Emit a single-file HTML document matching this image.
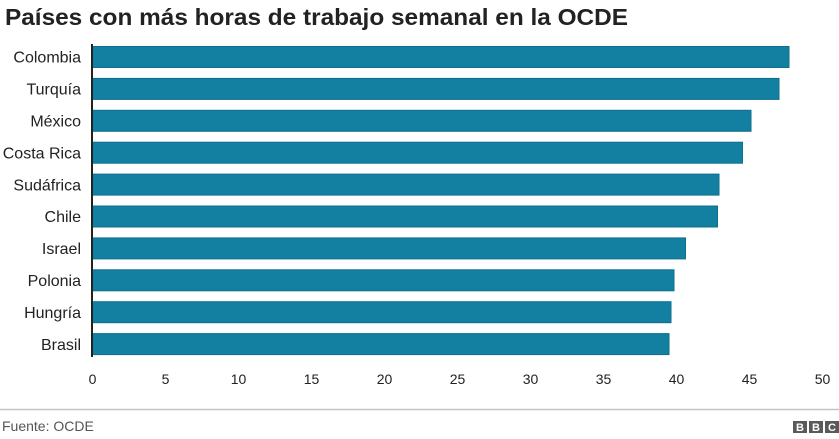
<!DOCTYPE html>
<html><head><meta charset="utf-8"><style>
html,body{margin:0;padding:0;background:#fff;}
svg{display:block;}
</style></head><body>
<svg width="839" height="439" viewBox="0 0 839 439" xmlns="http://www.w3.org/2000/svg" font-family="Liberation Sans, Arial, sans-serif">
<text x="5" y="25" font-size="23" font-weight="bold" fill="#222" textLength="623" lengthAdjust="spacingAndGlyphs">Países con más horas de trabajo semanal en la OCDE</text>
<g fill="#1380a1" stroke="#0f6f8e" stroke-width="1">
<rect x="92.5" y="46.5" width="696.5" height="21"/>
<rect x="92.5" y="78.4" width="686.5" height="21"/>
<rect x="92.5" y="110.3" width="658.5" height="21"/>
<rect x="92.5" y="142.2" width="650" height="21"/>
<rect x="92.5" y="174.1" width="626.5" height="21"/>
<rect x="92.5" y="206" width="625" height="21"/>
<rect x="92.5" y="237.9" width="593" height="21"/>
<rect x="92.5" y="269.8" width="581.5" height="21"/>
<rect x="92.5" y="301.7" width="578.5" height="21"/>
<rect x="92.5" y="333.6" width="576.5" height="21"/>
</g>
<line x1="92" y1="44" x2="92" y2="357" stroke="#222" stroke-width="2"/>
<g font-size="16" fill="#222" text-anchor="end">
<text x="81" y="62.7">Colombia</text>
<text x="81" y="94.6">Turquía</text>
<text x="81" y="126.5">México</text>
<text x="81" y="158.4">Costa Rica</text>
<text x="81" y="190.3">Sudáfrica</text>
<text x="81" y="222.2">Chile</text>
<text x="81" y="254.1">Israel</text>
<text x="81" y="286">Polonia</text>
<text x="81" y="317.9">Hungría</text>
<text x="81" y="349.8">Brasil</text>
</g>
<g font-size="14" fill="#222" text-anchor="middle">
<text x="92.5" y="384">0</text>
<text x="165.5" y="384">5</text>
<text x="238.5" y="384">10</text>
<text x="311.5" y="384">15</text>
<text x="384.5" y="384">20</text>
<text x="457.5" y="384">25</text>
<text x="530.5" y="384">30</text>
<text x="603.5" y="384">35</text>
<text x="676.5" y="384">40</text>
<text x="749.5" y="384">45</text>
<text x="822.5" y="384">50</text>
</g>
<line x1="0" y1="409.5" x2="839" y2="409.5" stroke="#c4c4c4" stroke-width="1.5"/>
<text x="2" y="431" font-size="14" fill="#555">Fuente: OCDE</text>
<g fill="#5a5a5a">
<rect x="793" y="421" width="14" height="12"/>
<rect x="809" y="421" width="14" height="12"/>
<rect x="825" y="421" width="14" height="12"/>
</g>
<g font-size="11" font-weight="bold" fill="#fff" text-anchor="middle">
<text x="800" y="431">B</text>
<text x="816" y="431">B</text>
<text x="832" y="431">C</text>
</g>
</svg>
</body></html>
